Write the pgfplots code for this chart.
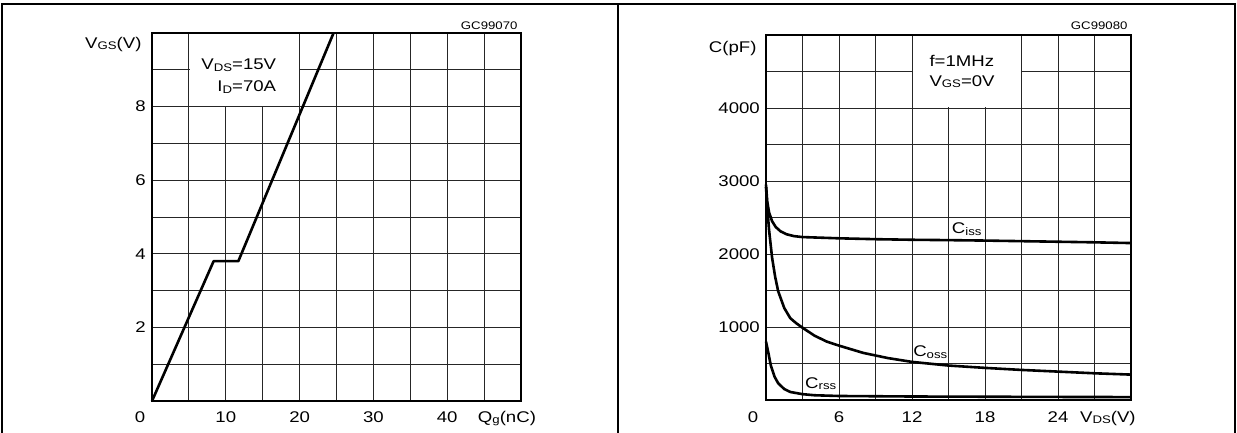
\documentclass[border=0pt]{standalone}
\usepackage{fontspec}
\setmainfont[FakeStretch=1.2]{Liberation Sans}
\usepackage{pgfplots}
\pgfplotsset{compat=1.18}

% subscripts as in the datasheet: smaller, slightly lowered
\newcommand\sub[1]{\raisebox{-1.3pt}{\fontsize{11}{11}\selectfont #1}}
\newcommand\lbl{\fontsize{15.5}{15.5}\selectfont}

\pgfplotsset{
  sheet/.style={
    scale only axis,
    clip=false,
    axis line style={line width=2.6pt},
    grid=major,
    major grid style={line width=1pt,draw=black!85},
    major tick length=0pt,
    tick label style={font=\lbl,inner sep=0pt},
    /pgf/number format/assume math mode=true,
    xticklabel style={anchor=base,yshift=-21pt},
    yticklabel style={anchor=east,xshift=-6pt},
  },
  curve/.style={black,solid,line width=2.6pt,mark=none,line join=round},
}

\begin{document}
\begin{tikzpicture}
\useasboundingbox (0,0) rectangle (1237pt,-432pt);
% panel frames
\draw[line width=2pt] (1.5pt,-4pt) rectangle (1235pt,-460pt);
\draw[line width=2pt] (618pt,-4pt) -- (618pt,-460pt);

% gate charge
\begin{axis}[sheet,
  at={(152pt,-33pt)}, anchor=north west,
  width=369pt, height=368pt,
  xmin=0, xmax=50, ymin=0, ymax=10,
  xtick={0,5,...,50}, xticklabels={,,10,,20,,30,,40,,},
  ytick={0,1,...,10}, yticklabels={,,2,,4,,6,,8,,},
]
\fill[white] ([xshift=0.7pt,yshift=0.7pt]axis cs:5,8) rectangle ([xshift=-0.7pt,yshift=-1.4pt]axis cs:20,10);
\addplot[curve] coordinates {(0,0) (8.35,3.8) (11.7,3.8) (24.6,10)};
\node[anchor=base east,font=\lbl] at (axis cs:17.3,9.0) {V\sub{DS}=15V};
\node[anchor=base east,font=\lbl] at (axis cs:17.3,8.4) {I\sub{D}=70A};
\node[anchor=base,font=\lbl,yshift=-21pt] at (axis cs:0,0) [xshift=-12pt] {0};
\node[anchor=base,font=\lbl,yshift=-21pt] at (axis cs:48.1,0) {Q\sub{g}(nC)};
\node[anchor=base east,font=\lbl,xshift=-7pt,yshift=-15pt] at (rel axis cs:0,1) {V\sub{GS}(V)};
\node[anchor=base east,font=\fontsize{11}{11}\selectfont,yshift=4pt] at (rel axis cs:1,1) {GC99070};
\end{axis}

% capacitance
\begin{axis}[sheet,
  at={(766pt,-35pt)}, anchor=north west,
  width=365pt, height=365pt,
  xmin=0, xmax=30, ymin=0, ymax=5000,
  xtick={0,3,...,30}, xticklabels={,,6,,12,,18,,24,,},
  ytick={0,500,...,5000}, yticklabels={,,1000,,2000,,3000,,4000,,},
  xticklabel style={yshift=-1pt},
]
\fill[white] ([xshift=0.7pt,yshift=0.7pt]axis cs:12,4000) rectangle ([xshift=-0.7pt,yshift=-1.4pt]axis cs:21,5000);
% Ciss
\addplot[curve] coordinates {(0,2950) (0.1,2720) (0.25,2570) (0.5,2450) (0.8,2370) (1.2,2310) (1.7,2270) (2.3,2245) (3,2232) (6,2215) (9,2203) (12,2195) (15,2190) (18,2184) (21,2176) (24,2168) (27,2160) (30,2150)};
% Coss
\addplot[curve] coordinates {(0,2920) (0.1,2650) (0.25,2330) (0.5,1950) (0.75,1690) (1,1490) (1.5,1260) (2,1120) (2.5,1050) (3,990) (4,880) (5,800) (6,745) (8,645) (10,575) (12,522) (15,472) (18,440) (21,412) (24,389) (27,366) (30,348)};
% Crss
\addplot[curve] coordinates {(0,800) (0.2,640) (0.4,470) (0.7,320) (1,230) (1.5,150) (2,110) (3,80) (4,65) (6,55) (12,48) (18,45) (24,42) (30,40)};
\node[anchor=base west,font=\lbl] at (axis cs:13.15,4562) {f=1MHz};
\node[anchor=base west,font=\lbl] at (axis cs:13.15,4301) {V\sub{GS}=0V};
\node[font=\lbl] at (axis cs:16.5,2340) {C\sub{iss}};
\node[font=\lbl] at (axis cs:13.5,655) {C\sub{oss}};
\node[font=\lbl] at (axis cs:4.5,220) {C\sub{rss}};
\node[anchor=base,font=\lbl,yshift=-22pt] at (axis cs:0,0) [xshift=-13pt] {0};
\node[anchor=base,font=\lbl,yshift=-22pt] at (axis cs:28.1,0) {V\sub{DS}(V)};
\node[anchor=base east,font=\lbl,xshift=-6pt,yshift=-17pt] at (rel axis cs:0,1) {C(pF)};
\node[anchor=base east,font=\fontsize{11}{11}\selectfont,yshift=6pt] at (rel axis cs:1,1) {GC99080};
\end{axis}
\end{tikzpicture}
\end{document}
